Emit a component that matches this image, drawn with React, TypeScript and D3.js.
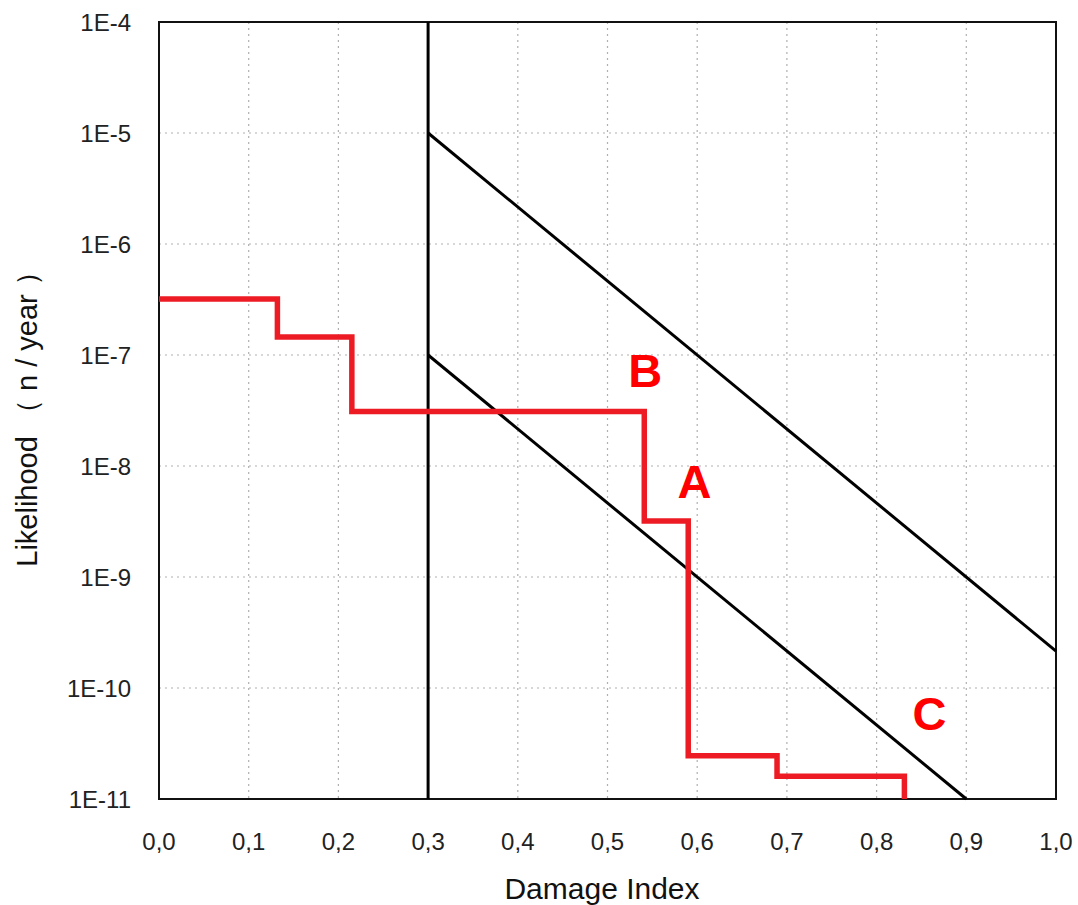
import * as d3 from "d3";
import { useEffect, useRef } from "react";

// red stepped curve: edges on x, level between each pair of edges
const stepEdges = [0, 0.132, 0.215, 0.541, 0.59, 0.689, 0.831];
const stepLevels = [3.2e-7, 1.45e-7, 3.1e-8, 3.2e-9, 2.45e-11, 1.6e-11];

// criteria lines
const upperLine = [
  { x: 0.3, y: 1e-5 },
  { x: 1.0, y: 2.15e-10 },
];
const lowerLine = [
  { x: 0.3, y: 1e-7 },
  { x: 0.9, y: 1e-11 },
];
const cutoffX = 0.3;

const xTicks = [0, 0.1, 0.2, 0.3, 0.4, 0.5, 0.6, 0.7, 0.8, 0.9, 1.0];
const yTicks = [1e-4, 1e-5, 1e-6, 1e-7, 1e-8, 1e-9, 1e-10, 1e-11];
const yTickLabels = ["1E-4", "1E-5", "1E-6", "1E-7", "1E-8", "1E-9", "1E-10", "1E-11"];

// region labels, anchored at their baseline
const regionLabels = [
  { text: "B", x: 0.542, y: 5.1e-8 },
  { text: "A", x: 0.597, y: 5.2e-9 },
  { text: "C", x: 0.859, y: 4.2e-11 },
];

const App = () => {
  const ref = useRef<SVGSVGElement>(null);

  useEffect(() => {
    draw();
  }, []);

  const draw = () => {
    const width = 1078,
      height = 905;
    const margin = { top: 22, right: 22, bottom: 106, left: 159 };
    const font = "'Liberation Sans', Arial, sans-serif";

    const svg = d3.select(ref.current);
    svg.selectAll("*").remove();

    const x = d3
      .scaleLinear()
      .domain([0, 1])
      .range([margin.left, width - margin.right]);
    const y = d3
      .scaleLog()
      .domain([1e-11, 1e-4])
      .range([height - margin.bottom, margin.top]);

    // grid
    svg
      .append("g")
      .selectAll("line")
      .data(xTicks.slice(1, -1))
      .enter()
      .append("line")
      .attr("x1", (d) => x(d))
      .attr("x2", (d) => x(d))
      .attr("y1", y(1e-4))
      .attr("y2", y(1e-11))
      .attr("stroke", "#b0b0b0")
      .attr("stroke-width", 1.2)
      .attr("stroke-dasharray", "2,4");
    svg
      .append("g")
      .selectAll("line")
      .data(yTicks.slice(1, -1))
      .enter()
      .append("line")
      .attr("x1", x(0))
      .attr("x2", x(1))
      .attr("y1", (d) => y(d))
      .attr("y2", (d) => y(d))
      .attr("stroke", "#b0b0b0")
      .attr("stroke-width", 1.2)
      .attr("stroke-dasharray", "2,4");

    // frame
    svg
      .append("rect")
      .attr("x", x(0))
      .attr("y", y(1e-4))
      .attr("width", x(1) - x(0))
      .attr("height", y(1e-11) - y(1e-4))
      .attr("fill", "none")
      .attr("stroke", "#111")
      .attr("stroke-width", 2);

    // tick labels
    svg
      .append("g")
      .selectAll("text")
      .data(xTicks)
      .enter()
      .append("text")
      .attr("x", (d) => x(d))
      .attr("y", 850)
      .attr("text-anchor", "middle")
      .attr("font-family", font)
      .attr("font-size", 24)
      .attr("fill", "#222")
      .text((d) => d3.format(".1f")(d).replace(".", ","));
    svg
      .append("g")
      .selectAll("text")
      .data(yTicks)
      .enter()
      .append("text")
      .attr("x", 131)
      .attr("y", (d) => y(d) + 9)
      .attr("text-anchor", "end")
      .attr("font-family", font)
      .attr("font-size", 24)
      .attr("fill", "#222")
      .text((d, i) => yTickLabels[i]);

    // axis titles
    svg
      .append("text")
      .attr("x", 602)
      .attr("y", 899)
      .attr("text-anchor", "middle")
      .attr("font-family", font)
      .attr("font-size", 30)
      .attr("fill", "#111")
      .text("Damage Index");
    svg
      .append("text")
      .attr("transform", "translate(37,412) rotate(-90)")
      .attr("text-anchor", "middle")
      .attr("font-family", font)
      .attr("font-size", 29)
      .attr("fill", "#111")
      .text("Likelihood （ n / year ）");

    // criteria lines
    const line = d3
      .line<{ x: number; y: number }>()
      .x((d) => x(d.x))
      .y((d) => y(d.y));
    [upperLine, lowerLine].forEach((pts) => {
      svg
        .append("path")
        .attr("d", line(pts))
        .attr("fill", "none")
        .attr("stroke", "#000")
        .attr("stroke-width", 3);
    });
    svg
      .append("line")
      .attr("x1", x(cutoffX))
      .attr("x2", x(cutoffX))
      .attr("y1", y(1e-4))
      .attr("y2", y(1e-11))
      .attr("stroke", "#000")
      .attr("stroke-width", 3);

    // red stepped curve
    const stepPts: { x: number; y: number }[] = [];
    stepLevels.forEach((lv, i) => {
      stepPts.push({ x: stepEdges[i], y: lv });
      stepPts.push({ x: stepEdges[i + 1], y: lv });
    });
    stepPts.push({ x: stepEdges[stepEdges.length - 1], y: 1e-11 });
    svg
      .append("path")
      .attr("d", line(stepPts))
      .attr("fill", "none")
      .attr("stroke", "#ed1c24")
      .attr("stroke-width", 5.5)
      .attr("stroke-linejoin", "miter");

    // region labels
    svg
      .append("g")
      .selectAll("text")
      .data(regionLabels)
      .enter()
      .append("text")
      .attr("x", (d) => x(d.x))
      .attr("y", (d) => y(d.y))
      .attr("text-anchor", "middle")
      .attr("font-family", font)
      .attr("font-weight", "bold")
      .attr("font-size", 47)
      .attr("fill", "#ff0000")
      .text((d) => d.text);
  };

  return (
    <svg
      ref={ref}
      width={1078}
      height={905}
      style={{ position: "absolute", left: 0, top: 0, background: "#fff" }}
    ></svg>
  );
};

export default App;
